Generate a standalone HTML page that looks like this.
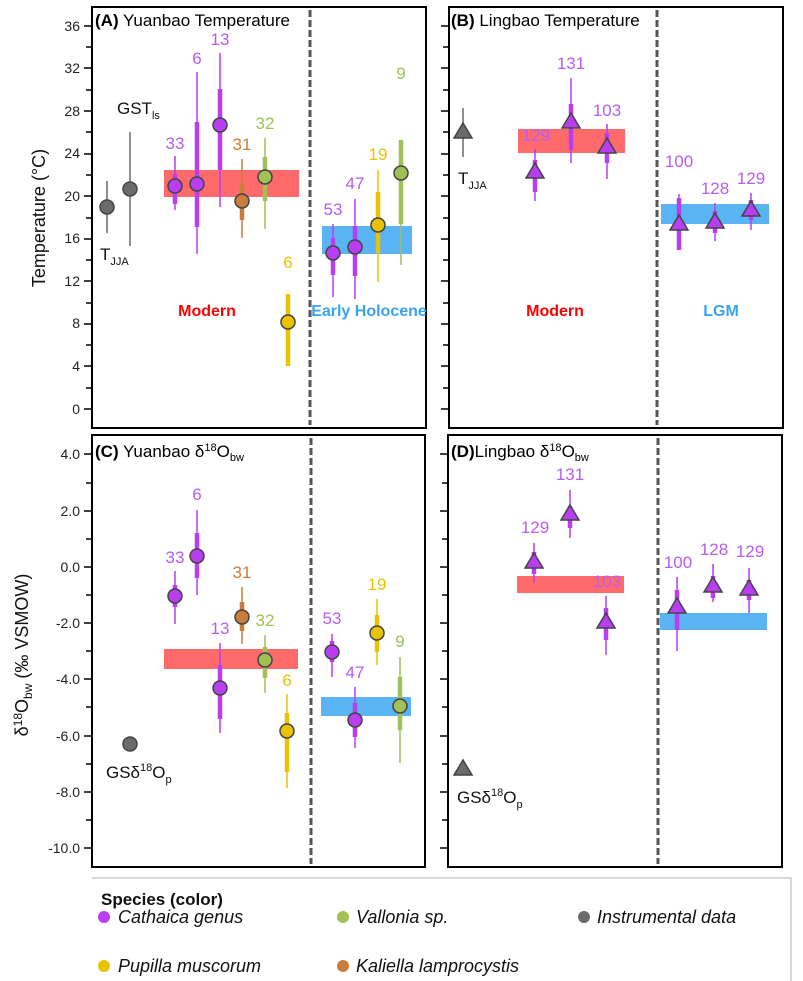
<!DOCTYPE html>
<html><head><meta charset="utf-8"><style>
html,body{margin:0;padding:0;background:#fff;}
svg{display:block;font-family:"Liberation Sans",sans-serif;}
.t{font-size:14px;fill:#222;}
.pl{font-size:17px;fill:#b95cf2;}
.th{stroke:#b93ef2;stroke-width:1.5}
.tk{stroke:#b93ef2;stroke-width:4.5}
</style></head><body>
<svg width="803" height="981" viewBox="0 0 803 981" xmlns="http://www.w3.org/2000/svg">
<rect width="803" height="981" fill="#fff"/>
<g fill="none" stroke="#000" stroke-width="2">
<rect x="92" y="7" width="334" height="421"/>
<rect x="449" y="7" width="334" height="421"/>
<rect x="92" y="435" width="333" height="432"/>
<rect x="448" y="435" width="334" height="432"/>
</g>
<g stroke="#555" stroke-width="3" stroke-dasharray="7,3">
<line x1="310" y1="10" x2="310" y2="425"/>
<line x1="657" y1="10" x2="657" y2="425"/>
<line x1="311" y1="438" x2="311" y2="864"/>
<line x1="658" y1="438" x2="658" y2="864"/>
</g>
<g stroke="#000" stroke-width="1.5">
<path d="M84 26H92M86 47H92M84 68H92M86 90H92M84 111H92M86 132H92M84 154H92M86 175H92M84 196H92M86 218H92M84 239H92M86 260H92M84 281H92M86 303H92M84 324H92M86 345H92M84 366H92M86 388H92M84 409H92"/>
<path d="M441 26H449M443 47H449M441 68H449M443 90H449M441 111H449M443 132H449M441 154H449M443 175H449M441 196H449M443 218H449M441 239H449M443 260H449M441 281H449M443 303H449M441 324H449M443 345H449M441 366H449M443 388H449M441 409H449"/>
<path d="M84 454H92M86 483H92M84 511H92M86 539H92M84 567H92M86 595H92M84 623H92M86 651H92M84 679H92M86 707H92M84 736H92M86 764H92M84 792H92M86 820H92M84 848H92"/>
<path d="M440 454H448M442 483H448M440 511H448M442 539H448M440 567H448M442 595H448M440 623H448M442 651H448M440 679H448M442 707H448M440 736H448M442 764H448M440 792H448M442 820H448M440 848H448"/>
</g>
<g class="t" text-anchor="end">
<text x="80" y="31">36</text><text x="80" y="73">32</text><text x="80" y="116">28</text><text x="80" y="158">24</text><text x="80" y="201">20</text><text x="80" y="243">16</text><text x="80" y="286">12</text><text x="80" y="328">8</text><text x="80" y="371">4</text><text x="80" y="414">0</text>
<text x="80" y="459">4.0</text><text x="80" y="516">2.0</text><text x="80" y="572">0.0</text><text x="80" y="628">-2.0</text><text x="80" y="684">-4.0</text><text x="80" y="741">-6.0</text><text x="80" y="797">-8.0</text><text x="80" y="853">-10.0</text>
</g>
<text transform="translate(45,218) rotate(-90)" text-anchor="middle" style="font-size:18px" fill="#111">Temperature (°C)</text>
<text transform="translate(28,655) rotate(-90)" text-anchor="middle" style="font-size:18px" fill="#111">δ<tspan dy="-6" font-size="12">18</tspan><tspan dy="6">O</tspan><tspan dy="4" font-size="12">bw</tspan><tspan dy="-4">  (‰  VSMOW)</tspan></text>

<text x="95" y="26" style="font-size:17px" fill="#000"><tspan font-weight="bold">(A)</tspan> Yuanbao Temperature</text>
<text x="451" y="26" style="font-size:17px" fill="#000"><tspan font-weight="bold">(B)</tspan> Lingbao Temperature</text>
<text x="95" y="457" style="font-size:17px" fill="#000"><tspan font-weight="bold">(C)</tspan> Yuanbao δ<tspan dy="-6" font-size="11">18</tspan><tspan dy="6">O</tspan><tspan dy="4" font-size="11">bw</tspan></text>
<text x="451" y="457" style="font-size:17px" fill="#000"><tspan font-weight="bold">(D)</tspan>Lingbao δ<tspan dy="-6" font-size="11">18</tspan><tspan dy="6">O</tspan><tspan dy="4" font-size="11">bw</tspan></text>

<rect x="164" y="170" width="135" height="27" fill="#ff6b6b"/>
<rect x="322" y="226" width="90" height="28" fill="#5ab4f4"/>
<rect x="518" y="129" width="107" height="24" fill="#ff6b6b"/>
<rect x="661" y="204" width="108" height="20" fill="#5ab4f4"/>
<rect x="164" y="649" width="134" height="20" fill="#ff6b6b"/>
<rect x="321" y="697" width="90" height="19" fill="#5ab4f4"/>
<rect x="517" y="576" width="107" height="17" fill="#ff6b6b"/>
<rect x="660" y="613" width="107" height="17" fill="#5ab4f4"/>

<g font-weight="bold" style="font-size:16px" text-anchor="middle">
<text x="207" y="316" fill="#f00">Modern</text>
<text x="369" y="316" fill="#3aa3f0">Early Holocene</text>
<text x="555" y="316" fill="#f00">Modern</text>
<text x="721" y="316" fill="#3aa3f0">LGM</text>
</g>

<g stroke-width="1.5">
<line x1="107" y1="181" x2="107" y2="233" stroke="#6b6b6b"/>
<circle cx="107" cy="207" r="7" fill="#6b6b6b" stroke="#444"/>
<line x1="130" y1="132" x2="130" y2="246" stroke="#6b6b6b"/>
<circle cx="130" cy="189" r="7" fill="#6b6b6b" stroke="#444"/>
</g>
<text x="117" y="114" style="font-size:17px" fill="#111">GST<tspan dy="5" font-size="11">ls</tspan></text>
<text x="100" y="260" style="font-size:17px" fill="#111">T<tspan dy="5" font-size="11">JJA</tspan></text>

<g stroke-linecap="butt">
<line class="th" x1="175" y1="156" x2="175" y2="210"/><line class="tk" x1="175" y1="174" x2="175" y2="204"/>
<line class="th" x1="197" y1="72" x2="197" y2="254"/><line class="tk" x1="197" y1="122" x2="197" y2="227"/>
<line class="th" x1="220" y1="53" x2="220" y2="207"/><line class="tk" x1="220" y1="89" x2="220" y2="170"/>
<line class="th" x1="333" y1="224" x2="333" y2="297"/><line class="tk" x1="333" y1="238" x2="333" y2="275"/>
<line class="th" x1="355" y1="199" x2="355" y2="299"/><line class="tk" x1="355" y1="226" x2="355" y2="276"/>
<line x1="242" y1="159" x2="242" y2="238" stroke="#c97d3c" stroke-width="1.5"/><line x1="242" y1="184" x2="242" y2="220" stroke="#c97d3c" stroke-width="4.5"/>
<line x1="265" y1="138" x2="265" y2="229" stroke="#9fc155" stroke-width="1.5"/><line x1="265" y1="157" x2="265" y2="201" stroke="#9fc155" stroke-width="4.5"/>
<line x1="401" y1="140" x2="401" y2="265" stroke="#9fc155" stroke-width="1.5"/><line x1="401" y1="140" x2="401" y2="224" stroke="#9fc155" stroke-width="4.5"/>
<line x1="288" y1="294" x2="288" y2="366" stroke="#e9c300" stroke-width="4.5"/>
<line x1="378" y1="170" x2="378" y2="282" stroke="#e9c300" stroke-width="1.5"/><line x1="378" y1="192" x2="378" y2="253" stroke="#e9c300" stroke-width="4.5"/>
</g>
<g stroke="#444" stroke-width="1.5">
<circle cx="175" cy="186" r="7" fill="#b93ef2"/>
<circle cx="197" cy="184" r="7" fill="#b93ef2"/>
<circle cx="220" cy="125" r="7" fill="#b93ef2"/>
<circle cx="242" cy="201" r="7" fill="#c97d3c"/>
<circle cx="265" cy="177" r="7" fill="#9fc155"/>
<circle cx="288" cy="322" r="7" fill="#e9c300"/>
<circle cx="333" cy="253" r="7" fill="#b93ef2"/>
<circle cx="355" cy="247" r="7" fill="#b93ef2"/>
<circle cx="378" cy="225" r="7" fill="#e9c300"/>
<circle cx="401" cy="173" r="7" fill="#9fc155"/>
</g>
<g style="font-size:17px" text-anchor="middle">
<text x="175" y="149" fill="#b95cf2">33</text>
<text x="197" y="64" fill="#b95cf2">6</text>
<text x="220" y="45" fill="#b95cf2">13</text>
<text x="242" y="150" fill="#c97d3c">31</text>
<text x="265" y="129" fill="#9fc155">32</text>
<text x="288" y="268" fill="#e9c300">6</text>
<text x="333" y="215" fill="#b95cf2">53</text>
<text x="355" y="189" fill="#b95cf2">47</text>
<text x="378" y="160" fill="#e9c300">19</text>
<text x="401" y="79" fill="#9fc155">9</text>
</g>

<line x1="463" y1="108" x2="463" y2="157" stroke="#6b6b6b" stroke-width="1.5"/>
<path d="M454 138L463 123L472 138Z" fill="#6b6b6b" stroke="#444" stroke-width="1.5"/>
<text x="458" y="184" style="font-size:17px" fill="#111">T<tspan dy="5" font-size="11">JJA</tspan></text>
<line class="th" x1="535" y1="149" x2="535" y2="201"/><line class="tk" x1="535" y1="160" x2="535" y2="192"/>
<line class="th" x1="571" y1="78" x2="571" y2="163"/><line class="tk" x1="571" y1="104" x2="571" y2="150"/>
<line class="th" x1="607" y1="124" x2="607" y2="179"/><line class="tk" x1="607" y1="133" x2="607" y2="163"/>
<line class="th" x1="679" y1="194" x2="679" y2="250"/><line class="tk" x1="679" y1="198" x2="679" y2="250"/>
<line class="th" x1="715" y1="203" x2="715" y2="241"/><line class="tk" x1="715" y1="211" x2="715" y2="233"/>
<line class="th" x1="751" y1="193" x2="751" y2="230"/><line class="tk" x1="751" y1="200" x2="751" y2="220"/>
<g fill="#b93ef2" stroke="#444" stroke-width="1.5">
<path d="M526 178L535 163L544 178Z"/>
<path d="M562 128L571 113L580 128Z"/>
<path d="M598 153L607 138L616 153Z"/>
<path d="M670 230L679 215L688 230Z"/>
<path d="M706 228L715 213L724 228Z"/>
<path d="M742 216L751 201L760 216Z"/>
</g>
<g class="pl" text-anchor="middle">
<text x="536" y="141">129</text><text x="571" y="69">131</text><text x="607" y="116">103</text>
<text x="679" y="167">100</text><text x="715" y="194">128</text><text x="751" y="184">129</text>
</g>

<circle cx="130" cy="744" r="7" fill="#6b6b6b" stroke="#444" stroke-width="1.5"/>
<text x="106" y="778" style="font-size:17px" fill="#111">GSδ<tspan dy="-7" font-size="11">18</tspan><tspan dy="7">O</tspan><tspan dy="5" font-size="11">p</tspan></text>
<line class="th" x1="175" y1="571" x2="175" y2="624"/><line class="tk" x1="175" y1="585" x2="175" y2="607"/>
<line class="th" x1="197" y1="510" x2="197" y2="595"/><line class="tk" x1="197" y1="533" x2="197" y2="578"/>
<line class="th" x1="220" y1="643" x2="220" y2="733"/><line class="tk" x1="220" y1="665" x2="220" y2="719"/>
<line class="th" x1="332" y1="634" x2="332" y2="677"/><line class="tk" x1="332" y1="641" x2="332" y2="662"/>
<line class="th" x1="355" y1="687" x2="355" y2="748"/><line class="tk" x1="355" y1="703" x2="355" y2="737"/>
<line x1="242" y1="587" x2="242" y2="644" stroke="#c97d3c" stroke-width="1.5"/><line x1="242" y1="602" x2="242" y2="631" stroke="#c97d3c" stroke-width="4.5"/>
<line x1="265" y1="635" x2="265" y2="693" stroke="#9fc155" stroke-width="1.5"/><line x1="265" y1="647" x2="265" y2="678" stroke="#9fc155" stroke-width="4.5"/>
<line x1="400" y1="657" x2="400" y2="763" stroke="#9fc155" stroke-width="1.5"/><line x1="400" y1="677" x2="400" y2="730" stroke="#9fc155" stroke-width="4.5"/>
<line x1="287" y1="694" x2="287" y2="788" stroke="#e9c300" stroke-width="1.5"/><line x1="287" y1="713" x2="287" y2="772" stroke="#e9c300" stroke-width="4.5"/>
<line x1="377" y1="599" x2="377" y2="665" stroke="#e9c300" stroke-width="1.5"/><line x1="377" y1="615" x2="377" y2="652" stroke="#e9c300" stroke-width="4.5"/>
<g stroke="#444" stroke-width="1.5">
<circle cx="175" cy="596" r="7" fill="#b93ef2"/>
<circle cx="197" cy="556" r="7" fill="#b93ef2"/>
<circle cx="220" cy="688" r="7" fill="#b93ef2"/>
<circle cx="242" cy="617" r="7" fill="#c97d3c"/>
<circle cx="265" cy="660" r="7" fill="#9fc155"/>
<circle cx="287" cy="731" r="7" fill="#e9c300"/>
<circle cx="332" cy="652" r="7" fill="#b93ef2"/>
<circle cx="355" cy="720" r="7" fill="#b93ef2"/>
<circle cx="377" cy="633" r="7" fill="#e9c300"/>
<circle cx="400" cy="706" r="7" fill="#9fc155"/>
</g>
<g style="font-size:17px" text-anchor="middle">
<text x="175" y="563" fill="#b95cf2">33</text>
<text x="197" y="500" fill="#b95cf2">6</text>
<text x="220" y="634" fill="#b95cf2">13</text>
<text x="242" y="578" fill="#c97d3c">31</text>
<text x="265" y="626" fill="#9fc155">32</text>
<text x="287" y="686" fill="#e9c300">6</text>
<text x="332" y="624" fill="#b95cf2">53</text>
<text x="355" y="678" fill="#b95cf2">47</text>
<text x="377" y="590" fill="#e9c300">19</text>
<text x="400" y="647" fill="#9fc155">9</text>
</g>

<path d="M454 775L463 760L472 775Z" fill="#6b6b6b" stroke="#444" stroke-width="1.5"/>
<text x="457" y="803" style="font-size:17px" fill="#111">GSδ<tspan dy="-7" font-size="11">18</tspan><tspan dy="7">O</tspan><tspan dy="5" font-size="11">p</tspan></text>
<line class="th" x1="534" y1="543" x2="534" y2="583"/><line class="tk" x1="534" y1="552" x2="534" y2="574"/>
<line class="th" x1="570" y1="490" x2="570" y2="538"/><line class="tk" x1="570" y1="506" x2="570" y2="528"/>
<line class="th" x1="606" y1="596" x2="606" y2="655"/><line class="tk" x1="606" y1="608" x2="606" y2="640"/>
<line class="th" x1="677" y1="577" x2="677" y2="651"/><line class="tk" x1="677" y1="590" x2="677" y2="630"/>
<line class="th" x1="713" y1="564" x2="713" y2="602"/><line class="tk" x1="713" y1="576" x2="713" y2="598"/>
<line class="th" x1="749" y1="568" x2="749" y2="613"/><line class="tk" x1="749" y1="580" x2="749" y2="600"/>
<g fill="#b93ef2" stroke="#444" stroke-width="1.5">
<path d="M525 568L534 553L543 568Z"/>
<path d="M561 520L570 505L579 520Z"/>
<path d="M597 628L606 613L615 628Z"/>
<path d="M668 613L677 598L686 613Z"/>
<path d="M704 592L713 577L722 592Z"/>
<path d="M740 595L749 580L758 595Z"/>
</g>
<g class="pl" text-anchor="middle">
<text x="535" y="533">129</text><text x="570" y="480">131</text><text x="607" y="587">103</text>
<text x="678" y="568">100</text><text x="714" y="555">128</text><text x="750" y="557">129</text>
</g>

<path d="M92 878H791V981" fill="none" stroke="#ccc" stroke-width="1.5"/>
<text x="101" y="905" style="font-size:17px" font-weight="bold" fill="#111">Species (color)</text>
<g style="font-size:18px" font-style="italic" fill="#111">
<circle cx="104" cy="917" r="6" fill="#b93ef2"/><text x="118" y="923">Cathaica genus</text>
<circle cx="343" cy="917" r="6" fill="#9fc155"/><text x="356" y="923">Vallonia sp.</text>
<circle cx="584" cy="917" r="6" fill="#6b6b6b"/><text x="597" y="923">Instrumental data</text>
<circle cx="104" cy="966" r="6" fill="#e9c300"/><text x="118" y="972">Pupilla muscorum</text>
<circle cx="343" cy="966" r="6" fill="#c97d3c"/><text x="356" y="972">Kaliella lamprocystis</text>
</g>
</svg>
</body></html>
